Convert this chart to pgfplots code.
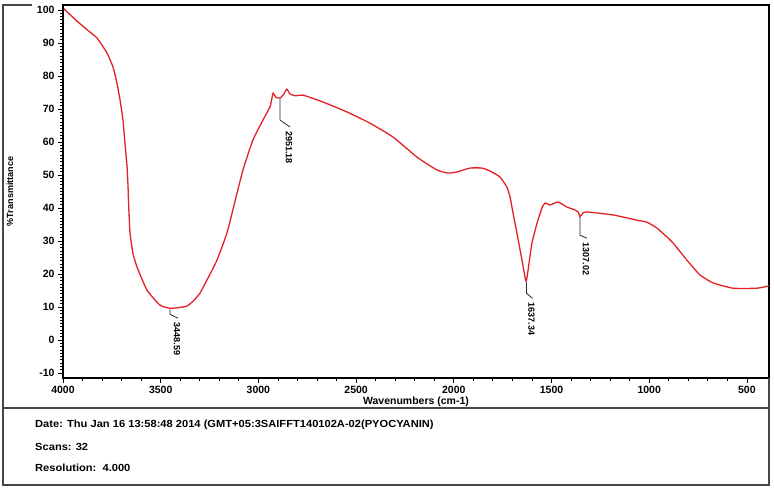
\documentclass[border=0pt]{standalone}
\usepackage{fontspec}
\setmainfont{Liberation Sans}
\usepackage{pgfplots}
\pgfplotsset{compat=1.18}
\definecolor{ftir}{RGB}{228,32,36}
\definecolor{framegray}{RGB}{70,70,70}
\definecolor{peakgray}{RGB}{40,40,40}

\pgfplotstableread{
wn T
4000 100.6
3928 96.6
3862 93.3
3826 91.5
3775 87.0
3744 82.7
3724 77.9
3708 72.7
3693 66.7
3683 59.7
3672 52.4
3667 46.3
3665 42.4
3657 32.4
3642 26.3
3621 22.1
3570 15.1
3504 10.6
3452 9.6
3400 9.9
3365 10.3
3330 12.0
3299 14.2
3263 18.2
3212 24.2
3161 32.4
3120 42.0
3079 51.5
3028 60.6
2976 66.7
2941 70.6
2935 72.0
2925 74.8
2910 73.5
2889 73.3
2870 74.5
2854 76.0
2838 74.5
2810 74.0
2772 74.2
2669 72.1
2547 69.1
2429 65.7
2311 61.5
2188 55.4
2086 51.5
2030 50.6
1984 50.9
1917 52.1
1856 52.1
1815 51.2
1764 49.4
1728 46.3
1712 43.3
1697 38.5
1677 32.4
1651 24.2
1630 17.8
1615 23.3
1600 29.4
1574 35.4
1549 40.0
1533 41.5
1508 40.9
1467 41.8
1421 40.3
1380 39.4
1364 38.8
1354 37.4
1339 38.5
1318 38.8
1185 37.9
1062 36.3
1011 35.7
960 33.9
909 31.2
878 29.4
807 24.2
740 19.7
673 17.3
571 15.7
448 15.7
388 16.4
}\spectrum

\newcommand{\peaklabel}[6]{% x, y, drop, dx, dy, text
  \draw[peakgray, line width=0.8pt] (axis cs:#1,#2) -- ++(0pt,-#3pt) -- ++(#4pt,-#5pt)
    node[anchor=west, rotate=-90, inner sep=0pt, xshift=4pt, yshift=-1pt,
         font=\fontsize{9}{10}\selectfont\bfseries, text=black] {#6};}

\begin{document}
\begin{tikzpicture}[x=1pt,y=1pt]
% page size, 1px = 1pt
\path (-63,-111) rectangle (711,378);

\begin{axis}[
    at={(0,0)}, anchor=south west,
    scale only axis, width=706pt, height=373pt,
    x dir=reverse,
    xmin=387, xmax=4000, ymin=-11.5, ymax=101.5,
    xtick={500,1000,...,4000}, ytick={-10,0,...,100},
    minor x tick num=4, minor y tick num=9,
    xtick pos=left, ytick pos=left,
    tick align=outside,
    major tick length=5pt, minor tick length=3pt,
    tick style={black, line width=0.8pt},
    axis line style={black, line width=1.6pt},
    scaled x ticks=false,
    /pgf/number format/1000 sep={},
    /pgf/number format/assume math mode=true,
    tick label style={font=\fontsize{10.5}{12}\selectfont\bfseries},
]
\addplot[ftir, line width=1.3pt, smooth, tension=0.3] table[x=wn, y=T] {\spectrum};

\peaklabel{3452}{9.3}{5}{8}{4}{3448.59}
\peaklabel{2889}{73.0}{21}{10}{7}{2951.18}
\peaklabel{1628}{17.5}{11}{6}{5}{1637.34}
\peaklabel{1354}{37.2}{18}{7}{3}{1307.02}
\end{axis}
% heavier left axis line
\draw[black, line width=2.6pt] (0,0) -- (0,373);

% outer frame and info panel
\draw[framegray, line width=1.6pt] (-31,373) -- (-60,373) -- (-60,-107) -- (706,-107) -- (706,0);
\draw[framegray, line width=1.6pt] (-60,-30) -- (706,-30);

\node[rotate=90, font=\fontsize{9}{10}\selectfont\bfseries] at (-53,186.5) {\%Transmittance};
\node[font=\fontsize{10.5}{12}\selectfont\bfseries] at (353,-24) {Wavenumbers (cm-1)};

\begin{scope}[every node/.style={anchor=west, inner sep=0pt, xscale=1.08, font=\fontsize{10.3}{12}\selectfont\bfseries}]
\node at (-28,-47) {Date: Thu Jan 16 13:58:48 2014 (GMT+05:3SAIFFT140102A-02(PYOCYANIN)};
\node at (-28,-69) {Scans: 32};
\node at (-28,-90) {Resolution:\ \ 4.000};
\end{scope}
\end{tikzpicture}
\end{document}
